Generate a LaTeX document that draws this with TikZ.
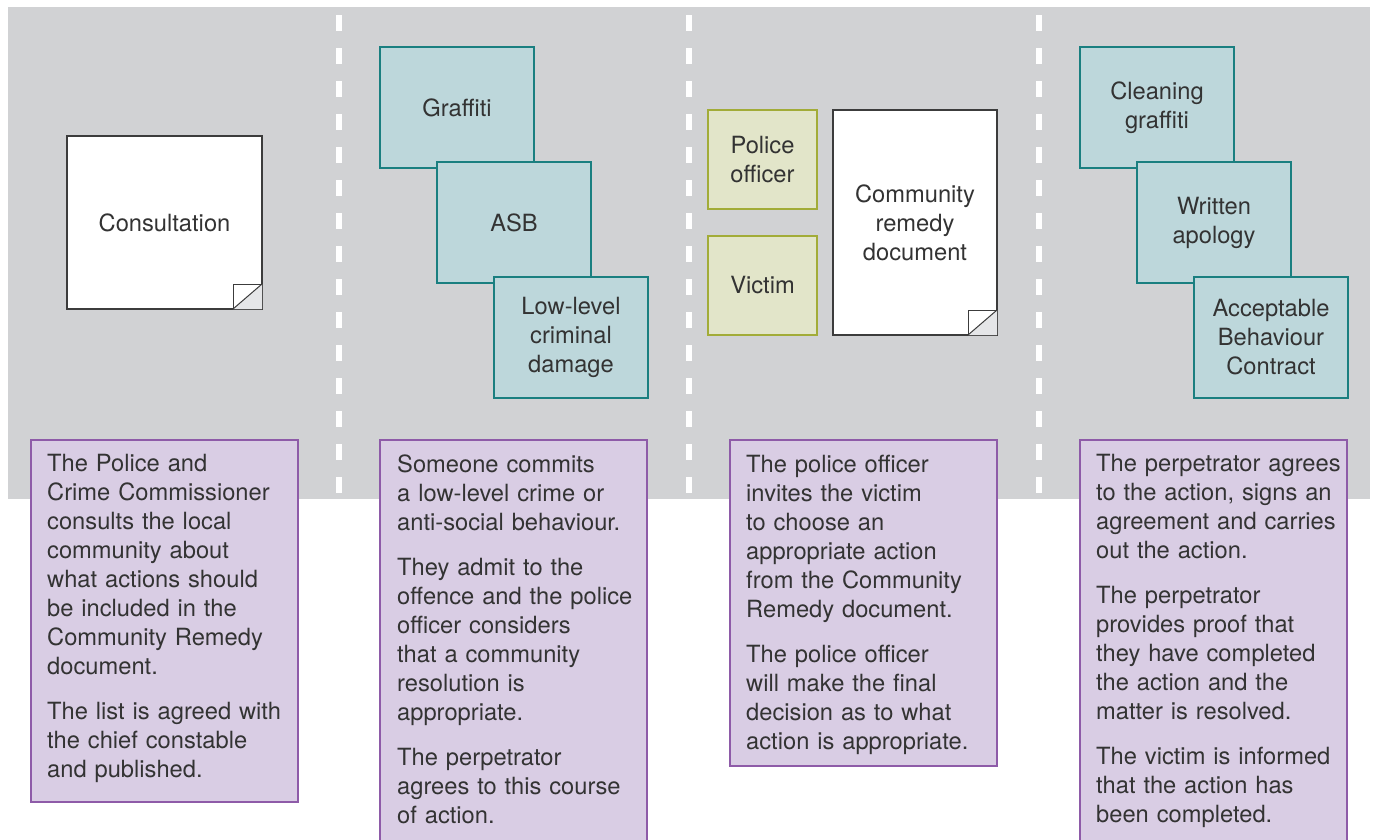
\documentclass[tikz,border=0pt]{standalone}
\usepackage{fontspec}
\setmainfont{TeX Gyre Heros}
\usetikzlibrary{calc}
\usetikzlibrary{positioning}

\definecolor{bggray}{HTML}{D1D2D4}
\definecolor{inkgray}{HTML}{333333}
\definecolor{tealline}{HTML}{1A7F80}
\definecolor{tealfill}{HTML}{BDD7DB}
\definecolor{oliveline}{HTML}{A2AC38}
\definecolor{olivefill}{HTML}{E2E5C9}
\definecolor{purpleline}{HTML}{8E5BA8}
\definecolor{purplefill}{HTML}{D9CDE4}
\definecolor{docline}{HTML}{3C3C3C}
\definecolor{foldgray}{HTML}{E5E6E8}

\begin{document}
\begin{tikzpicture}[x=1pt,y=-1pt,
    every node/.style={font=\fontsize{23.7pt}{29pt}\selectfont, text=inkgray},
    card/.style={rectangle, draw, line width=1.5pt, inner sep=0pt, outer sep=0pt, align=center},
    actbox/.style={card, draw=tealline, fill=tealfill, minimum width=154pt, minimum height=121pt},
    rolebox/.style={card, draw=oliveline, fill=olivefill, minimum width=109pt, minimum height=99pt},
    docbox/.style={card, draw=docline, fill=white},
    infobox/.style={card, draw=purpleline, fill=purplefill, minimum width=267pt},
    infotext/.style={inner sep=0pt, align=left, text width=250pt},
    lane/.style={white, line width=6pt, dash pattern=on 16pt off 17pt}]
        \useasboundingbox (0,0) rectangle (1375,839);
        \clip (0,0) rectangle (1375,839);

        %% Background and lanes
        \fill[bggray] (8,7) rectangle (1370,499);
        \draw[lane] (339,15) -- (339,493);
        \draw[lane] (689,15) -- (689,493);
        \draw[lane] (1039,15) -- (1039,493);

        %% Step 1: consultation
        \node[docbox, anchor=north west, minimum width=195pt, minimum height=173pt] (cons) at (67,136) {Consultation};
        \fill[foldgray] (cons.south east) -- ($(cons.south east)+(-29,0)$) -- ($(cons.south east)+(0,-25)$) -- cycle;
        \draw[docline, line width=1pt] ($(cons.south east)+(-29,0)$) -- ++(0,-25) -- ++(29,0);
        \draw[docline, line width=1pt] ($(cons.south east)+(-29,0)$) -- ($(cons.south east)+(0,-25)$);

        %% Step 2: offences
        \node[actbox, anchor=north west] (graf) at (380,47) {Graffiti};
        \node[actbox, below right=-6pt and -97pt of graf.south east] (asb) {ASB};
        \node[actbox, below right=-6pt and -97pt of asb.south east] (dmg) {Low-level\\criminal\\damage};

        %% Step 3: choice of action
        \node[rolebox, anchor=north west] (cop) at (708,110) {Police\\officer};
        \node[rolebox, below=27pt of cop] (vic) {Victim};
        \node[docbox, minimum width=164pt, minimum height=225pt, below right=0pt and 16pt of cop.north east] (remdoc) {Community\\remedy\\document};
        \fill[foldgray] (remdoc.south east) -- ($(remdoc.south east)+(-29,0)$) -- ($(remdoc.south east)+(0,-25)$) -- cycle;
        \draw[docline, line width=1pt] ($(remdoc.south east)+(-29,0)$) -- ++(0,-25) -- ++(29,0);
        \draw[docline, line width=1pt] ($(remdoc.south east)+(-29,0)$) -- ($(remdoc.south east)+(0,-25)$);

        %% Step 4: actions
        \node[actbox, anchor=north west] (clean) at (1080,47) {Cleaning\\graffiti};
        \node[actbox, below right=-6pt and -97pt of clean.south east] (apol) {Written\\apology};
        \node[actbox, below right=-6pt and -97pt of apol.south east] (abc) {Acceptable\\Behaviour\\Contract};

        %% Descriptions
        \node[infobox, anchor=north west, minimum height=362pt] (info1) at (31,440) {};
        \node[infotext, below right=14.5pt and 16pt of info1.north west] (txt1) {The Police and\\Crime Commissioner\\consults the local\\community about\\what actions should\\be included in the\\Community Remedy\\document.\\[16pt]The list is agreed with\\the chief constable\\and published.};

        \node[infobox, anchor=north west, minimum height=430pt] (info2) at (380,440) {};
        \node[infotext, below right=14.5pt and 17pt of info2.north west] (txt2) {Someone commits\\a low-level crime or\\anti-social behaviour.\\[16pt]They admit to the\\offence and the police\\officer considers\\that a community\\resolution is\\appropriate.\\[16pt]The perpetrator\\agrees to this course\\of action.};

        \node[infobox, anchor=north west, minimum height=326pt] (info3) at (730,440) {};
        \node[infotext, below right=14.5pt and 16pt of info3.north west] (txt3) {The police officer\\invites the victim\\to choose an\\appropriate action\\from the Community\\Remedy document.\\[16pt]The police officer\\will make the final\\decision as to what\\action is appropriate.};

        \node[infobox, anchor=north west, minimum height=430pt] (info4) at (1080,440) {};
        \node[infotext, below right=14.5pt and 16pt of info4.north west] (txt4) {The perpetrator agrees\\to the action, signs an\\agreement and carries\\out the action.\\[16pt]The perpetrator\\provides proof that\\they have completed\\the action and the\\matter is resolved.\\[16pt]The victim is informed\\that the action has\\been completed.};
\end{tikzpicture}
\end{document}
